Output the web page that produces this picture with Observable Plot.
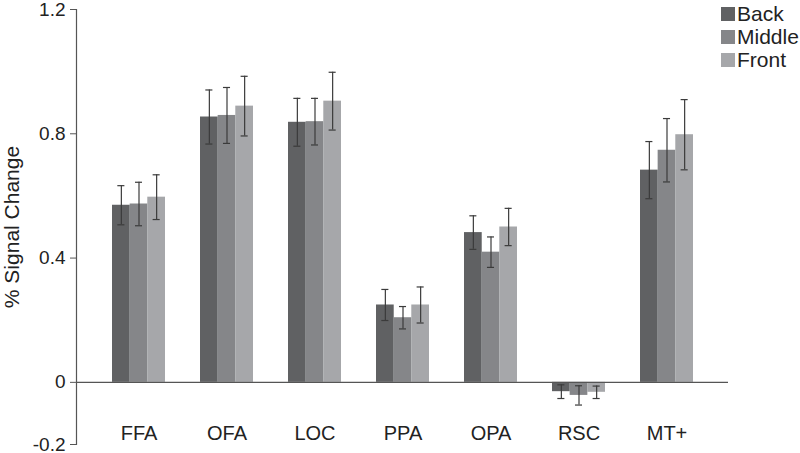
<!DOCTYPE html>
<html>
<head>
<meta charset="utf-8">
<script src="https://cdn.jsdelivr.net/npm/d3@7"></script>
<script src="https://cdn.jsdelivr.net/npm/@observablehq/plot@0.6"></script>
<style>
  html, body { margin: 0; padding: 0; background: #fff; }
  #wrap { position: relative; width: 800px; height: 453px; font-family: "Liberation Sans", Arial, sans-serif; }
  #legend { position: absolute; left: 721px; top: 2px; font-size: 21px; color: #222; }
  #legend .row { display: flex; align-items: center; height: 23px; }
  #legend .sw { width: 14px; height: 14px; margin-right: 2px; }
</style>
</head>
<body>
<div id="wrap"><div id="legend"></div></div>
<script>
const regions = ["FFA", "OFA", "LOC", "PPA", "OPA", "RSC", "MT+"];
const conditions = ["Back", "Middle", "Front"];
const backValues   = [0.570, 0.854, 0.837, 0.249, 0.482, -0.030, 0.683];
const middleValues = [0.574, 0.859, 0.839, 0.208, 0.419, -0.042, 0.747];
const frontValues  = [0.596, 0.889, 0.905, 0.249, 0.500, -0.032, 0.797];
const backErr   = [0.063, 0.087, 0.077, 0.050, 0.054, 0.022, 0.092];
const middleErr = [0.070, 0.090, 0.075, 0.036, 0.049, 0.031, 0.102];
const frontErr  = [0.072, 0.096, 0.093, 0.058, 0.060, 0.020, 0.113];
const yTicks = [-0.2, 0, 0.4, 0.8, 1.2];
const colors = ["#606163", "#858689", "#a6a7aa"];

const W = 800, H = 453;
const mL = 76, mR = 72, mT = 9, mB = 9;
const padInner = 0.4, padOuter = 0.395;

const valueSets = [backValues, middleValues, frontValues];
const errSets = [backErr, middleErr, frontErr];
const rows = [];
conditions.forEach((c, ci) => regions.forEach((r, ri) => {
  rows.push({region: r, condition: c, ci, value: valueSets[ci][ri], err: errSets[ci][ri]});
}));

// bandwidth of the x scale (same parameters as Plot's scale)
const bw = d3.scaleBand().domain(regions).range([mL, W - mR]).paddingInner(padInner).paddingOuter(padOuter).bandwidth();
const sub = bw / 3;
const cap = 3.5;

const marks = [];
conditions.forEach((c, ci) => {
  const d = rows.filter(r => r.ci === ci);
  marks.push(Plot.barY(d, {x: "region", y: "value", fill: colors[ci], insetLeft: ci * sub, insetRight: (2 - ci) * sub}));
});
conditions.forEach((c, ci) => {
  const d = rows.filter(r => r.ci === ci);
  const center = (ci + 0.5) * sub;
  marks.push(Plot.ruleX(d, {x: "region", y1: r => r.value - r.err, y2: r => r.value + r.err, dx: center - bw / 2, stroke: "#3b3b3b", strokeWidth: 1.2}));
  marks.push(Plot.tickY(d, {x: "region", y: r => r.value + r.err, insetLeft: center - cap, insetRight: bw - center - cap, stroke: "#3b3b3b", strokeWidth: 1.2}));
  marks.push(Plot.tickY(d, {x: "region", y: r => r.value - r.err, insetLeft: center - cap, insetRight: bw - center - cap, stroke: "#3b3b3b", strokeWidth: 1.2}));
});
marks.push(Plot.ruleY([0], {stroke: "#555", strokeWidth: 1.2}));
marks.push(Plot.frame({anchor: "left", stroke: "#555", strokeWidth: 1.2}));
marks.push(Plot.axisY({ticks: yTicks, tickSize: 6, tickPadding: 5, tickFormat: d => d === 0 ? "0" : String(d.toFixed(1)), stroke: "#555", fill: "#222",
  label: null, fontSize: 19}));
marks.push(Plot.axisY({ticks: [], tickSize: 0, fill: "#222",
  label: "% Signal Change", labelArrow: "none", labelAnchor: "center", labelOffset: 72, fontSize: 21}));
marks.push(Plot.axisX({tickSize: 0, tickPadding: 0, dy: -19, fill: "#222", label: null, fontSize: 20}));

const chart = Plot.plot({
  width: W, height: H,
  marginLeft: mL, marginRight: mR, marginTop: mT, marginBottom: mB,
  style: {fontFamily: "'Liberation Sans', Arial, sans-serif", fontSize: "20px", color: "#222", background: "#fff", overflow: "visible"},
  x: {type: "band", domain: regions, paddingInner: padInner, paddingOuter: padOuter},
  y: {domain: [-0.2, 1.2]},
  marks
});
document.getElementById("wrap").prepend(chart);

const legend = document.getElementById("legend");
conditions.forEach((c, ci) => {
  const row = document.createElement("div");
  row.className = "row";
  row.innerHTML = `<div class="sw" style="background:${colors[ci]}"></div><span>${c}</span>`;
  legend.appendChild(row);
});
</script>
</body>
</html>
